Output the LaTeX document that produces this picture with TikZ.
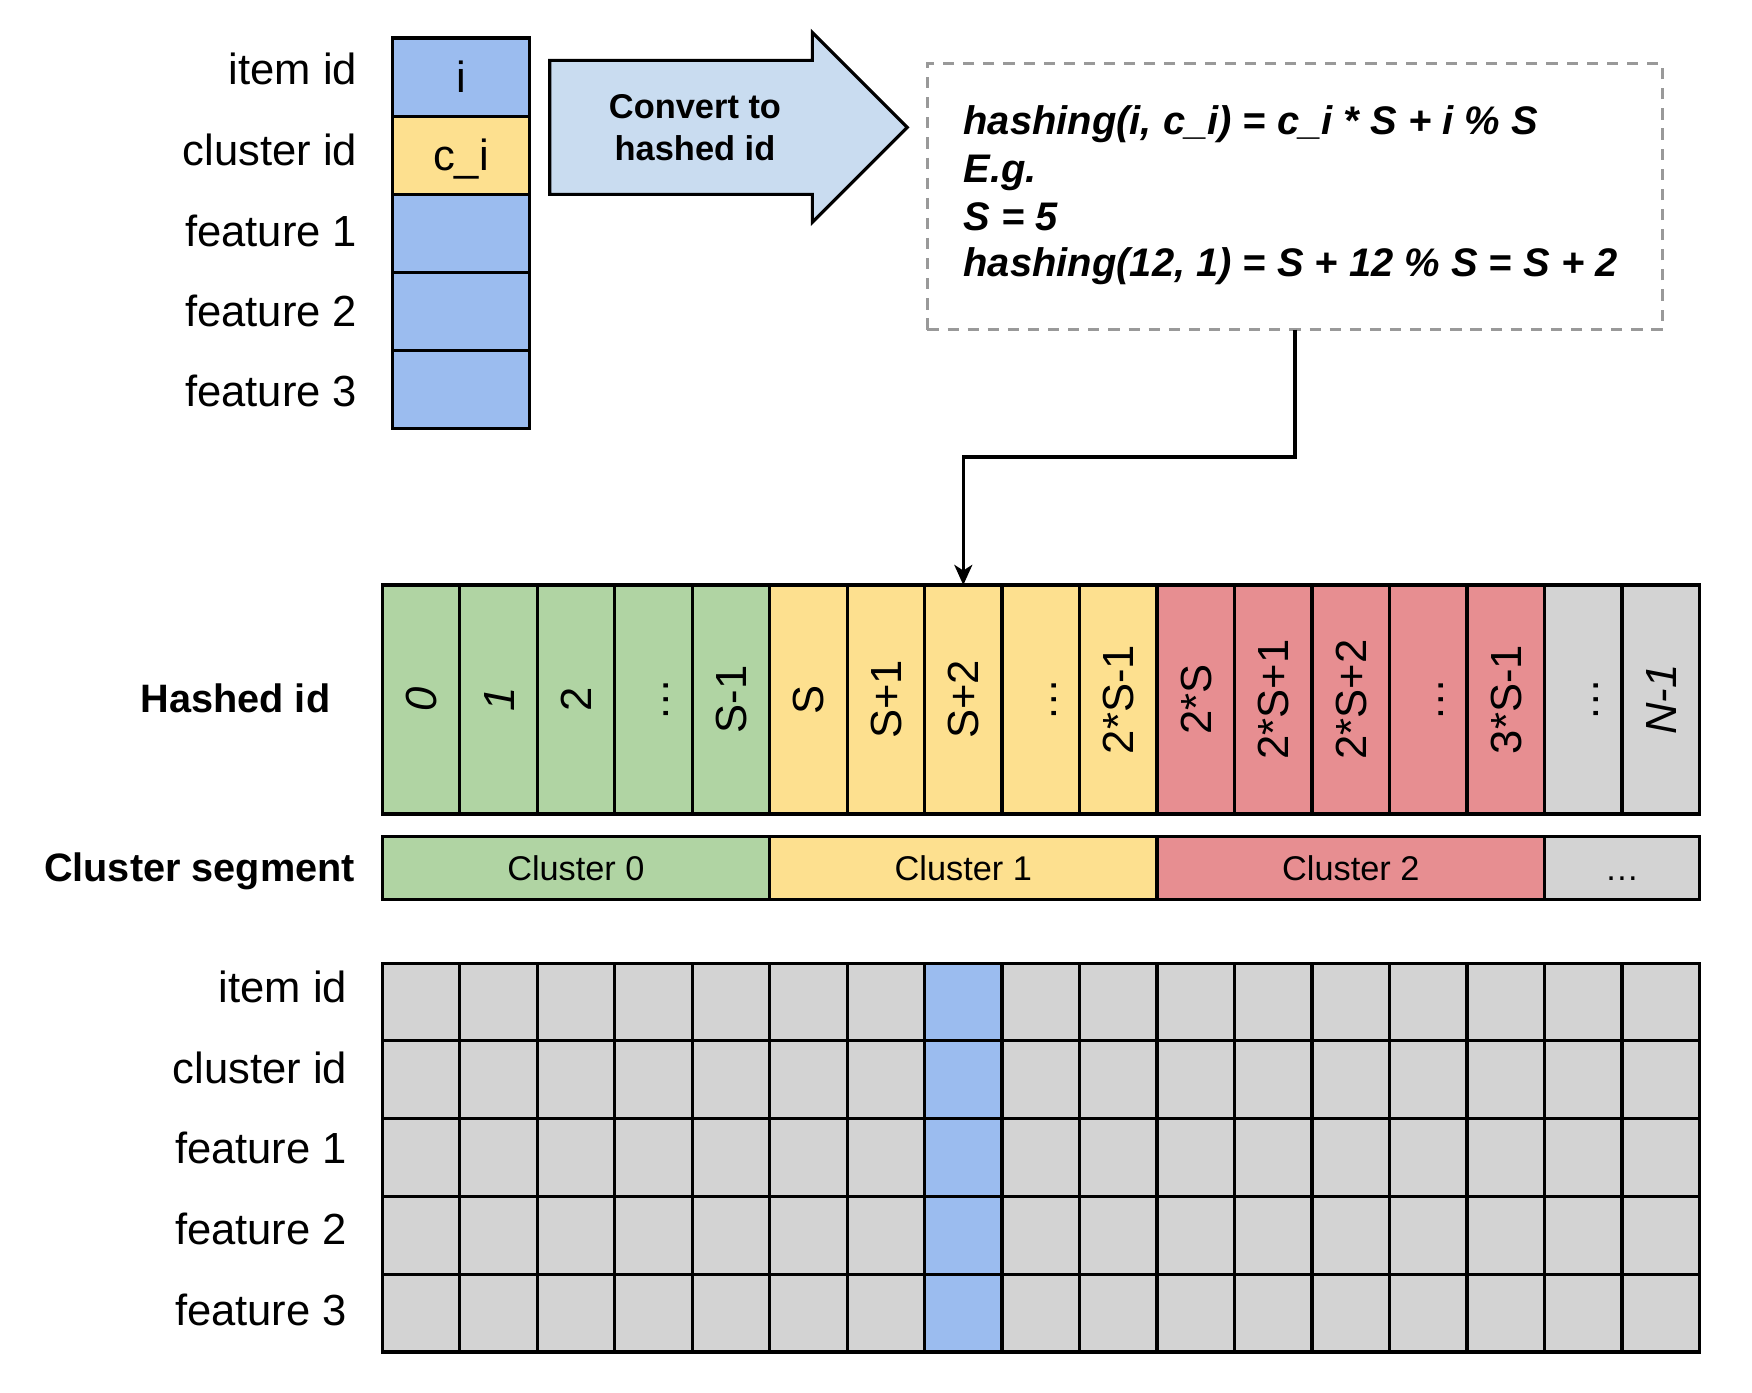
\documentclass[tikz,border=0pt]{standalone}
\usepackage{fontspec}
\setmainfont{Liberation Sans}
\usetikzlibrary{arrows.meta}
\definecolor{cblue}{HTML}{9BBCEF}
\definecolor{cyellow}{HTML}{FDE08F}
\definecolor{cgreen}{HTML}{B0D4A3}
\definecolor{cred}{HTML}{E78E91}
\definecolor{cgray}{HTML}{D3D3D3}
\definecolor{carrow}{HTML}{C9DCF0}
\definecolor{cdash}{HTML}{999999}
\begin{document}
\begin{tikzpicture}[x=0.5pt,y=-0.5pt,
  cell/.style={draw=black, line width=1.4pt, inner sep=0pt, outer sep=0pt},
  lab/.style={font=\fontsize{19.5}{23}\selectfont, inner sep=0pt, anchor=base east},
  boldlab/.style={font=\bfseries\fontsize{17.75}{21}\selectfont, inner sep=0pt, anchor=base east},
  celltext/.style={inner sep=0pt, text height=14pt, text depth=0pt},
  upr/.style={font=\fontsize{19.5}{23}\selectfont},
  itl/.style={font=\itshape\fontsize{19.5}{23}\selectfont},
  clustext/.style={font=\fontsize{15.35}{18}\selectfont, text height=11pt, text depth=0pt},
  formula/.style={font=\bfseries\itshape\fontsize{17.85}{21}\selectfont, inner sep=0pt, anchor=base west},
]
\useasboundingbox (0,0) rectangle (1568,1246);

% ---- top item column ----
\foreach \r/\col/\t in {0/cblue/i, 1/cyellow/c\_i, 2/cblue/, 3/cblue/, 4/cblue/}{
  \node[cell, celltext, upr, fill=\col, minimum width=61.5pt, minimum height=34.95pt]
    (t\r) at (412.5, {34+(\r+0.5)*69.9}) {\t};
}
\node[lab] (tl0) at (320,76) {item id};
\node[lab] (tl1) at (320,148) {cluster id};
\node[lab] (tl2) at (320,221) {feature 1};
\node[lab] (tl3) at (320,292) {feature 2};
\node[lab] (tl4) at (320,364) {feature 3};

% ---- big arrow ----
\draw[line width=1.4pt, fill=carrow, line join=miter]
  (492,54) -- (727,54) -- (727,29) -- (812,114) -- (727,199) -- (727,174) -- (492,174) -- cycle;
\node[font=\bfseries\fontsize{15.4}{18.65}\selectfont, align=center, inner sep=0pt]
  (conv) at (622,114) {Convert to\\hashed id};

% ---- formula box ----
\node[draw=cdash, dash pattern=on 5pt off 4pt, line width=1.4pt, inner sep=0pt, outer sep=0pt,
  minimum width=329pt, minimum height=119pt] (fbox) at (1159,176) {};
\node[formula] (f1) at (862,120.8) {hashing(i, c\_i) = c\_i * S + i \% S};
\node[formula] (f2) at (862,163.5) {E.g.};
\node[formula] (f3) at (862,205.9) {S = 5};
\node[formula] (f4) at (862,247.6) {hashing(12, 1) = S + 12 \% S = S + 2};

% ---- hashed id row ----
\foreach \i/\col/\t/\sty in {0/cgreen/0/itl, 1/cgreen/1/itl, 2/cgreen/2/upr, 3/cgreen/…/upr,
  4/cgreen/S-1/upr, 5/cyellow/S/upr, 6/cyellow/S+1/upr, 7/cyellow/S+2/upr, 8/cyellow/…/upr,
  9/cyellow/2*S-1/upr, 10/cred/2*S/upr, 11/cred/2*S+1/upr, 12/cred/2*S+2/upr, 13/cred/…/upr,
  14/cred/3*S-1/upr, 15/cgray/…/upr, 16/cgray/N-1/itl}{
  \node[cell, fill=\col, minimum width=34.675pt, minimum height=102.45pt]
    (h\i) at ({342+(\i+0.5)*69.35}, 626.05) {};
  \node[celltext, \sty, rotate=90] (hl\i) at (h\i.center) {\t};
}
\node[boldlab] (hashlab) at (296,638) {Hashed id};

% ---- cluster segment ----
\node[cell, clustext, fill=cgreen, minimum width=173.375pt, minimum height=28.05pt] (c0) at (515.4,776.85) {Cluster 0};
\node[cell, clustext, fill=cyellow, minimum width=173.375pt, minimum height=28.05pt] (c1) at (862.1,776.85) {Cluster 1};
\node[cell, clustext, fill=cred, minimum width=173.375pt, minimum height=28.05pt] (c2) at (1208.9,776.85) {Cluster 2};
\node[cell, clustext, fill=cgray, minimum width=69.35pt, minimum height=28.05pt] (c3) at (1451.6,776.85) {…};
\node[boldlab] (seglab) at (318,789) {Cluster segment};

% ---- bottom table ----
\foreach \r in {0,...,4}{
  \foreach \c in {0,...,16}{
    \ifnum\c=7 \def\gc{cblue}\else\def\gc{cgray}\fi
    \node[cell, fill=\gc, minimum width=34.675pt, minimum height=34.8pt]
      (g\r-\c) at ({342+(\c+0.5)*69.35}, {862+(\r+0.5)*69.6}) {};
  }
}
\node[lab] (bl0) at (311,897.4) {item id};
\node[lab] (bl1) at (311,969.6) {cluster id};
\node[lab] (bl2) at (311,1041.2) {feature 1};
\node[lab] (bl3) at (311,1113.4) {feature 2};
\node[lab] (bl4) at (311,1185.9) {feature 3};

% ---- connector ----
\draw[line width=1.6pt, -{Stealth[length=9pt,width=8pt,inset=2.5pt]}] (fbox.south) -- ++(0,114) -| (h7.north);
\end{tikzpicture}
\end{document}
